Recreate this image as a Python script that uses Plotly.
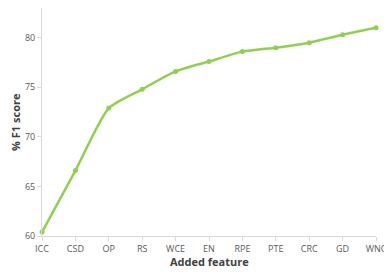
import plotly.graph_objects as go

features = ["ICC", "CSD", "OP", "RS", "WCE", "EN", "RPE", "PTE", "CRC", "GD", "WNC"]
f1_scores = [60.4, 66.6, 72.9, 74.8, 76.6, 77.6, 78.6, 79.0, 79.5, 80.3, 81.0]
y_ticks = [60, 65, 70, 75, 80]

green = "#8fd14f"
fig = go.Figure()
fig.add_trace(go.Scatter(
    x=features, y=f1_scores, mode="lines+markers",
    line=dict(color=green, width=2.5, shape="spline", smoothing=0.6),
    marker=dict(color=green, size=5),
    cliponaxis=False, showlegend=False,
))

font_family = "Open Sans, Liberation Sans, sans-serif"
fig.update_layout(
    width=384, height=269,
    margin=dict(l=34, r=16, t=0, b=41),
    paper_bgcolor="white", plot_bgcolor="white",
    font=dict(family=font_family, color="#595959", size=9),
    xaxis=dict(
        type="category", range=[0, 10], automargin=False,
        showline=True, linecolor="#d9d9d9", linewidth=1,
        ticks="outside", tickcolor="#d9d9d9", ticklen=4,
        showgrid=False, zeroline=False,
        tickfont=dict(size=9, color="#595959"),
    ),
    yaxis=dict(
        range=[60, 83], tickvals=y_ticks, automargin=False,
        showline=True, linecolor="#d9d9d9", linewidth=1,
        ticks="outside", tickcolor="#d9d9d9", ticklen=4,
        showgrid=False, zeroline=False,
        tickfont=dict(size=9, color="#595959"),
    ),
    annotations=[
        dict(text="<b>Added feature</b>", xref="paper", yref="paper",
             x=0.5, y=-0.114, xanchor="center", yanchor="middle", showarrow=False,
             font=dict(size=11, color="#404040")),
        dict(text="<b>% F1 score</b>", xref="paper", yref="paper",
             x=-0.081, y=0.5, xanchor="center", yanchor="middle", showarrow=False,
             textangle=-90, font=dict(size=11, color="#404040")),
    ],
)
fig.write_html("out.html")
